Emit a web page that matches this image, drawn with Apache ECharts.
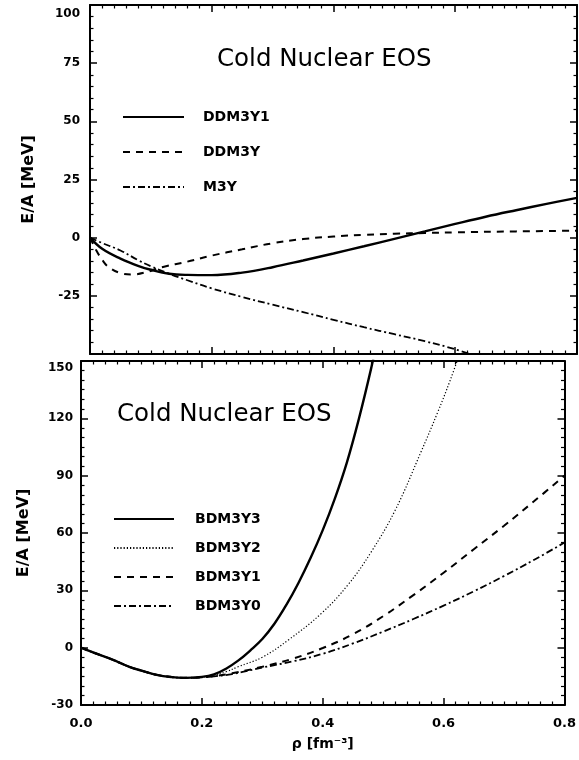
<!DOCTYPE html>
<html>
<head>
<meta charset="utf-8">
<script src="https://cdn.jsdelivr.net/npm/echarts@6/dist/echarts.min.js"></script>
<style>
  html, body { margin: 0; padding: 0; background: #fff; }
  #chart { width: 579px; height: 760px; }
</style>
</head>
<body>
<div id="chart"></div>
<script>
// Energy per nucleon E/A (MeV) versus density rho (fm^-3), cold nuclear matter.

// Upper panel: DDM3Y1, DDM3Y, M3Y
const ddm3y1Rho = [0, 0.02, 0.05, 0.08, 0.1, 0.13, 0.16, 0.2, 0.25, 0.3, 0.35, 0.4, 0.45, 0.5, 0.55, 0.6, 0.65, 0.7, 0.75, 0.8];
const ddm3y1E   = [0, -4.8, -9, -12.2, -13.8, -15.5, -16, -16.1, -15, -12.7, -9.8, -6.8, -3.7, -0.5, 2.7, 5.9, 9, 11.8, 14.5, 17.1];

const ddm3yRho = [0, 0.01, 0.02, 0.03, 0.05, 0.07, 0.09, 0.12, 0.16, 0.2, 0.25, 0.3, 0.35, 0.4, 0.45, 0.5, 0.55, 0.6, 0.7, 0.8];
const ddm3yE   = [0, -5.3, -9.5, -12.5, -15.2, -15.8, -15, -12.6, -10.3, -7.7, -5, -2.4, -0.6, 0.5, 1.2, 1.7, 2.0, 2.3, 2.7, 3.0];

const m3yRho = [0, 0.02, 0.05, 0.08, 0.1, 0.13, 0.16, 0.2, 0.25, 0.3, 0.35, 0.4, 0.45, 0.5, 0.55, 0.6, 0.64];
const m3yE   = [0, -2.3, -5.5, -9.8, -12.3, -15.5, -18.3, -21.8, -25.5, -28.8, -32, -35.3, -38.5, -41.5, -44.5, -48, -51.5];

// Lower panel: BDM3Y3, BDM3Y2, BDM3Y1, BDM3Y0
const bdm3y3Rho = [0, 0.02, 0.05, 0.08, 0.1, 0.125, 0.15, 0.17, 0.2, 0.22, 0.24, 0.26, 0.28, 0.3, 0.32, 0.34, 0.36, 0.38, 0.4, 0.42, 0.44, 0.46, 0.48, 0.49];
const bdm3y3E   = [0, -2.5, -6, -10, -12, -14.2, -15.4, -15.8, -15.3, -14, -11, -6.8, -1.5, 4.5, 12.5, 22.5, 34, 47, 61.5, 78, 97, 120, 146, 161];

const bdm3y2Rho = [0, 0.02, 0.05, 0.08, 0.1, 0.125, 0.15, 0.17, 0.2, 0.22, 0.24, 0.26, 0.3, 0.343, 0.398, 0.442, 0.48, 0.52, 0.562, 0.59, 0.611, 0.63];
const bdm3y2E   = [0, -2.5, -6, -10, -12, -14.2, -15.4, -15.8, -15.4, -14.4, -12.6, -10, -5, 4, 18, 33, 50, 72, 102, 123, 140, 157];

const bdm3y1Rho = [0, 0.02, 0.05, 0.08, 0.1, 0.125, 0.15, 0.17, 0.2, 0.22, 0.25, 0.3, 0.35, 0.4, 0.45, 0.5, 0.55, 0.6, 0.65, 0.7, 0.75, 0.8];
const bdm3y1E   = [0, -2.5, -6, -10, -12, -14.2, -15.4, -15.8, -15.5, -14.9, -13.4, -10, -5.8, -0.2, 7, 16.5, 27.5, 39.2, 51.5, 63.8, 76.7, 90];

const bdm3y0Rho = [0, 0.02, 0.05, 0.08, 0.1, 0.125, 0.15, 0.17, 0.2, 0.22, 0.25, 0.3, 0.35, 0.4, 0.45, 0.5, 0.55, 0.6, 0.65, 0.7, 0.75, 0.8];
const bdm3y0E   = [0, -2.5, -6, -10, -12, -14.2, -15.4, -15.8, -15.5, -15, -13.8, -10.4, -7.2, -3.2, 2.2, 8.4, 15, 22, 29.5, 37.5, 46, 55];

// Axis ticks
const rhoTicks = [0, 0.2, 0.4, 0.6, 0.8];
const upperTicks = [-50, -25, 0, 25, 50, 75, 100];
const lowerTicks = [-30, 0, 30, 60, 90, 120, 150];

const titleText = 'Cold Nuclear EOS';
const yName = 'E/A [MeV]';
const xName = 'ρ [fm⁻³]';

const pairs = (xs, ys) => xs.map((x, i) => [x, ys[i]]);

const FONT = 'DejaVu Sans';
const INK = '#000';

const minorInside = { show: true, length: 3.5, lineStyle: { color: INK, width: 1.2 } };

function frameAxis(extra) {
  return Object.assign({
    type: 'value',
    axisLine: { show: true, onZero: false, lineStyle: { color: INK, width: 2 } },
    axisTick: { show: true, inside: true, length: 7, lineStyle: { color: INK, width: 1.5 } },
    splitLine: { show: false },
    axisLabel: { show: false }
  }, extra);
}

const tickLabel = { show: true, color: INK, fontFamily: FONT, fontWeight: 'bold', fontSize: 12 };

const range = ticks => ({ min: ticks[0], max: ticks[ticks.length - 1], interval: ticks[1] - ticks[0] });
const upper = range(upperTicks);
const lower = range(lowerTicks);
const rho = range(rhoTicks);

// the top tick label of each panel sits a little below its tick
const dropTop = (max, pad) => ({
  formatter: v => (v === max ? '{t|' + v + '}' : String(v)),
  rich: { t: { padding: [pad, 0, 0, 0], color: INK, fontFamily: FONT, fontWeight: 'bold', fontSize: 12 } }
});

const xAxes = [
  frameAxis(Object.assign({ gridIndex: 0, position: 'bottom', minorTick: Object.assign({ splitNumber: 10 }, minorInside) }, rho)),
  frameAxis(Object.assign({ gridIndex: 0, position: 'top', minorTick: Object.assign({ splitNumber: 10 }, minorInside) }, rho)),
  frameAxis(Object.assign({
    gridIndex: 1, position: 'bottom',
    minorTick: Object.assign({ splitNumber: 10 }, minorInside),
    axisLabel: Object.assign({}, tickLabel, { margin: 12, fontSize: 13, formatter: v => v.toFixed(1) }),
    name: xName, nameLocation: 'middle', nameGap: 32,
    nameTextStyle: { color: INK, fontFamily: FONT, fontWeight: 'bold', fontSize: 14 }
  }, rho)),
  frameAxis(Object.assign({ gridIndex: 1, position: 'top', minorTick: Object.assign({ splitNumber: 10 }, minorInside) }, rho))
];

const nameStyle = { color: INK, fontFamily: FONT, fontWeight: 'bold', fontSize: 16 };

const yAxes = [
  frameAxis(Object.assign({
    gridIndex: 0, position: 'left',
    minorTick: Object.assign({ splitNumber: 5 }, minorInside),
    axisLabel: Object.assign({}, tickLabel, { margin: 10, showMinLabel: false }, dropTop(upper.max, 18)),
    name: yName, nameLocation: 'middle', nameGap: 53, nameTextStyle: nameStyle
  }, upper)),
  frameAxis(Object.assign({ gridIndex: 0, position: 'right', minorTick: Object.assign({ splitNumber: 5 }, minorInside) }, upper)),
  frameAxis(Object.assign({
    gridIndex: 1, position: 'left',
    minorTick: Object.assign({ splitNumber: 6 }, minorInside),
    axisLabel: Object.assign({}, tickLabel, { margin: 8 }, dropTop(lower.max, 14)),
    name: yName, nameLocation: 'middle', nameGap: 49, nameTextStyle: nameStyle
  }, lower)),
  frameAxis(Object.assign({ gridIndex: 1, position: 'right', minorTick: Object.assign({ splitNumber: 6 }, minorInside) }, lower))
];

function curve(name, xs, ys, xi, yi, lineStyle) {
  return {
    name, type: 'line', xAxisIndex: xi, yAxisIndex: yi,
    data: pairs(xs, ys), symbol: 'none', smooth: 0.4, clip: true,
    color: INK, lineStyle: Object.assign({ color: INK }, lineStyle),
    emphasis: { disabled: true }, silent: true, z: 3
  };
}

const SOLID = { type: 'solid', width: 2.4 };
const DASHED = { type: [7, 6], width: 2 };
const DASHDOT = { type: [7, 3, 2, 3], width: 1.8 };
const DOTTED = { type: [1.2, 2], width: 1.2 };

const series = [
  curve('DDM3Y1', ddm3y1Rho, ddm3y1E, 0, 0, SOLID),
  curve('DDM3Y', ddm3yRho, ddm3yE, 0, 0, DASHED),
  curve('M3Y', m3yRho, m3yE, 0, 0, DASHDOT),
  curve('BDM3Y3', bdm3y3Rho, bdm3y3E, 2, 2, SOLID),
  curve('BDM3Y2', bdm3y2Rho, bdm3y2E, 2, 2, DOTTED),
  curve('BDM3Y1', bdm3y1Rho, bdm3y1E, 2, 2, DASHED),
  curve('BDM3Y0', bdm3y0Rho, bdm3y0E, 2, 2, DASHDOT)
];

const legendText = pad => ({ color: INK, fontFamily: FONT, fontWeight: 'bold', fontSize: 14, padding: [0, 0, 0, pad] });
const legendBase = { orient: 'vertical', itemHeight: 14, selectedMode: false, itemStyle: { opacity: 0 } };

const titleStyle = { color: INK, fontFamily: FONT, fontWeight: 'normal', fontSize: 24.5 };

const option = {
  backgroundColor: '#fff',
  animation: false,
  title: [
    { text: titleText, left: 212, top: 42, textStyle: titleStyle },
    { text: titleText, left: 112, top: 397, textStyle: titleStyle }
  ],
  legend: [
    Object.assign({ data: ['DDM3Y1', 'DDM3Y', 'M3Y'], left: 117, top: 105, itemWidth: 61, itemGap: 21, textStyle: legendText(14) }, legendBase),
    Object.assign({ data: ['BDM3Y3', 'BDM3Y2', 'BDM3Y1', 'BDM3Y0'], left: 108, top: 507, itemWidth: 60, itemGap: 15, textStyle: legendText(16) }, legendBase)
  ],
  grid: [
    { left: 90, top: 5, width: 487, height: 349 },
    { left: 81, top: 361, width: 488, height: 344 }
  ],
  xAxis: xAxes,
  yAxis: yAxes,
  series
};

const chart = echarts.init(document.getElementById('chart'), null, { renderer: 'canvas' });
chart.setOption(option);
</script>
</body>
</html>
